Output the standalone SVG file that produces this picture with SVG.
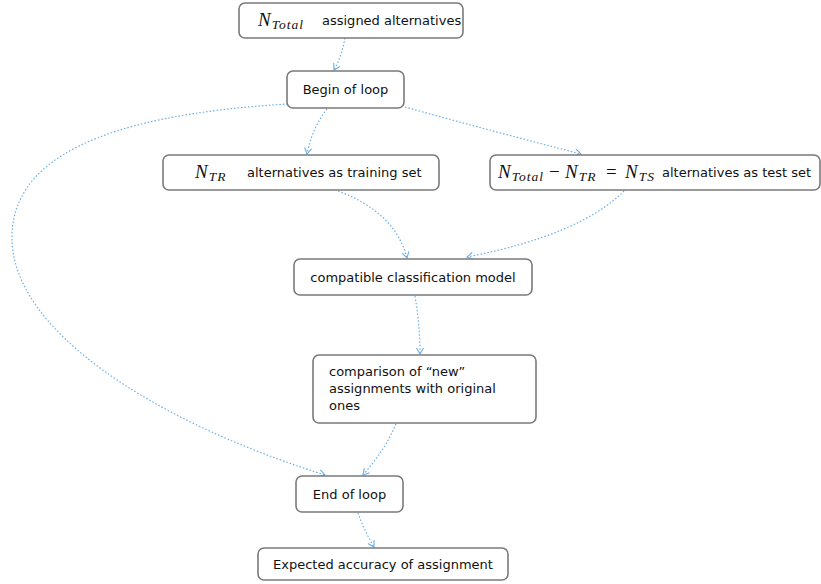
<svg xmlns="http://www.w3.org/2000/svg" width="821" height="584" viewBox="0 0 821 584">
<style>
.box{fill:#fff;stroke:#7a7a7a;stroke-width:1.6}
.t{font-family:"DejaVu Sans","Liberation Sans",sans-serif;font-size:13px;fill:#111}
.m{font-family:"Liberation Serif","DejaVu Serif",serif;font-style:italic;fill:#111}
.big{font-size:19px}
.sub{font-size:13.5px;letter-spacing:1px}
.op{font-family:"Liberation Serif","DejaVu Serif",serif;font-size:19px;fill:#111}
.c{fill:none;stroke:#6aaee6;stroke-width:1.2;stroke-dasharray:1.5 2}
</style>
<defs>
<marker id="ah" markerWidth="10" markerHeight="10" refX="7" refY="4" orient="auto" markerUnits="userSpaceOnUse">
<path d="M1,0.5 L7,4 L1,7.5" fill="none" stroke="#6aaee6" stroke-width="1.1"/>
</marker>
</defs>
<rect width="821" height="584" fill="#fff"/>
<g id="connectors">
<path class="c" d="M345,38 Q342,55 334,70" marker-end="url(#ah)"/>
<path class="c" d="M327,109 Q312,128 307,154" marker-end="url(#ah)"/>
<path class="c" d="M405,107 Q495,132 581,154" marker-end="url(#ah)"/>
<path class="c" d="M288,104 C100,115 10,160 12,240 C14,330 150,420 325,475" marker-end="url(#ah)"/>
<path class="c" d="M338,191 Q395,212 407,258" marker-end="url(#ah)"/>
<path class="c" d="M624,191 Q580,235 467,257" marker-end="url(#ah)"/>
<path class="c" d="M415,296 Q420,325 420,354" marker-end="url(#ah)"/>
<path class="c" d="M396,424 Q385,450 363,475" marker-end="url(#ah)"/>
<path class="c" d="M358,513 Q364,530 374,547" marker-end="url(#ah)"/>
</g>
<g id="n-total">
<rect class="box" x="239" y="3" width="224" height="35" rx="6"/>
<text class="m" x="258" y="26"><tspan class="big">N</tspan><tspan class="sub" dx="1" dy="3">Total</tspan></text>
<text class="t" x="322" y="25">assigned alternatives</text>
</g>
<g id="begin-loop">
<rect class="box" x="287" y="71" width="117" height="37" rx="6"/>
<text class="t" x="345.5" y="94" text-anchor="middle">Begin of loop</text>
</g>
<g id="training">
<rect class="box" x="163" y="155" width="276" height="35" rx="6"/>
<text class="m" x="195" y="178"><tspan class="big">N</tspan><tspan class="sub" dx="1" dy="3">TR</tspan></text>
<text class="t" x="247" y="177">alternatives as training set</text>
</g>
<g id="test">
<rect class="box" x="490" y="155" width="330" height="35" rx="6"/>
<text class="m" x="498" y="178"><tspan class="big">N</tspan><tspan class="sub" dx="1" dy="3">Total</tspan></text>
<text class="op" x="549" y="178">−</text>
<text class="m" x="565" y="178"><tspan class="big">N</tspan><tspan class="sub" dx="1" dy="3">TR</tspan></text>
<text class="op" x="606" y="178">=</text>
<text class="m" x="625" y="178"><tspan class="big">N</tspan><tspan class="sub" dx="1" dy="3">TS</tspan></text>
<text class="t" x="662" y="177">alternatives as test set</text>
</g>
<g id="model">
<rect class="box" x="294" y="259" width="238" height="36" rx="6"/>
<text class="t" x="413" y="282" text-anchor="middle">compatible classification model</text>
</g>
<g id="comparison">
<rect class="box" x="313" y="355" width="223" height="68" rx="6"/>
<text class="t" x="329" y="376">comparison of “new”</text>
<text class="t" x="329" y="393">assignments with original</text>
<text class="t" x="329" y="410">ones</text>
</g>
<g id="end-loop">
<rect class="box" x="296" y="476" width="107" height="36" rx="6"/>
<text class="t" x="349.5" y="499" text-anchor="middle">End of loop</text>
</g>
<g id="expected">
<rect class="box" x="258" y="548" width="250" height="32" rx="6"/>
<text class="t" x="383" y="569" text-anchor="middle">Expected accuracy of assignment</text>
</g>
</svg>
